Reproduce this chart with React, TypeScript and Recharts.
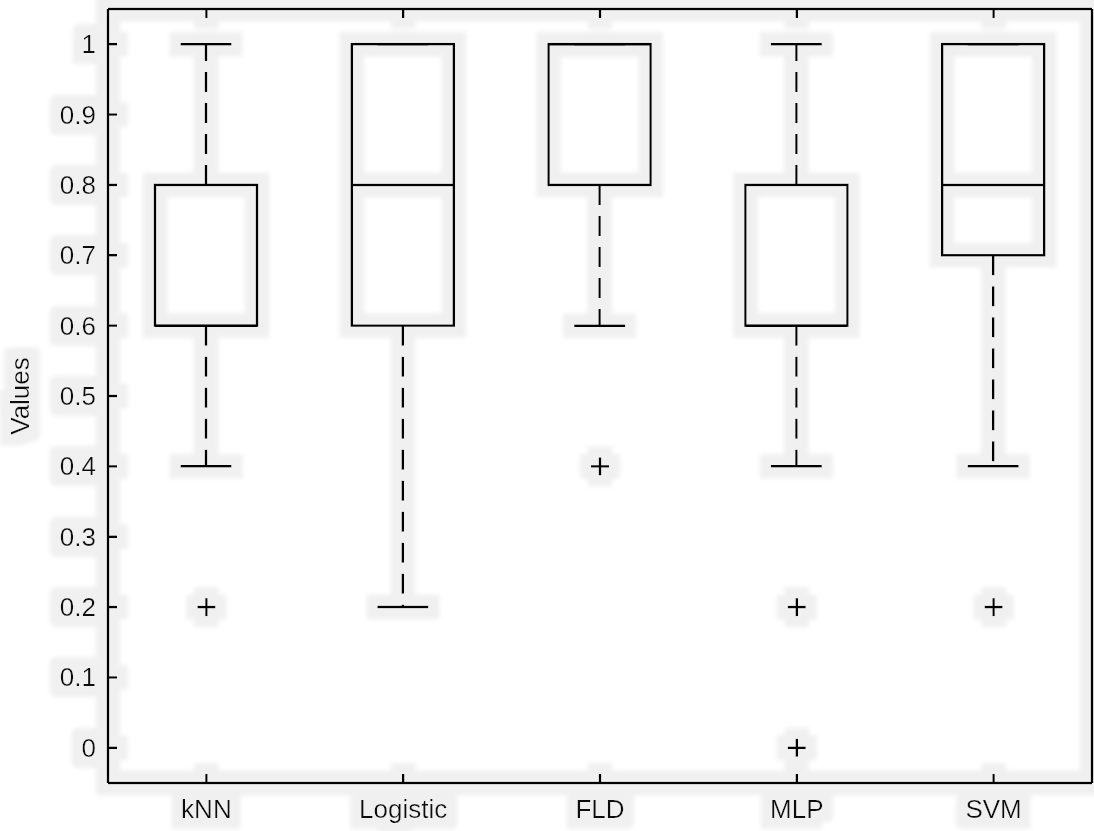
import React from 'react';
import { ComposedChart, Bar, Scatter, XAxis, YAxis } from 'recharts';

const categories = ['kNN', 'Logistic', 'FLD', 'MLP', 'SVM'];
const lowerWhisker = [0.4, 0.2, 0.6, 0.4, 0.4];
const q1 = [0.6, 0.6, 0.8, 0.6, 0.7];
const median = [0.6, 0.8, 1.0, 0.6, 0.8];
const q3 = [0.8, 1.0, 1.0, 0.8, 1.0];
const upperWhisker = [1.0, 1.0, 1.0, 1.0, 1.0];
const outliers: number[][] = [[0.2], [], [0.4], [0.2, 0], [0.2]];
const yTicks = [0, 0.1, 0.2, 0.3, 0.4, 0.5, 0.6, 0.7, 0.8, 0.9, 1];

const data = categories.map((name, i) => ({
  name,
  lo: lowerWhisker[i],
  q1: q1[i],
  med: median[i],
  q3: q3[i],
  hi: upperWhisker[i],
  range: [lowerWhisker[i], upperWhisker[i]],
}));

const outlierData = categories.flatMap((name, i) =>
  outliers[i].map((v) => ({ name, value: v }))
);

const FONT = '"Liberation Sans", Arial, sans-serif';
const FS = 26;
const SW = 2.5;

const BoxShape = (props: any) => {
  const { x, y, width, height, payload } = props;
  const { lo, hi } = payload;
  const toY = (v: number) => y + (height * (hi - v)) / (hi - lo);
  const cx = x + width / 2;
  const half = width / 2;
  const cap = width / 4;
  const yHi = toY(hi);
  const yQ3 = toY(payload.q3);
  const yMed = toY(payload.med);
  const yQ1 = toY(payload.q1);
  const yLo = toY(lo);
  return (
    <g>
      {yQ3 - yHi > 0.5 && (
        <line x1={cx} x2={cx} y1={yQ3} y2={yHi} stroke="#000" strokeWidth={SW} strokeDasharray="20 11" />
      )}
      {yLo - yQ1 > 0.5 && (
        <line x1={cx} x2={cx} y1={yQ1} y2={yLo} stroke="#000" strokeWidth={SW} strokeDasharray="20 11" />
      )}
      <line x1={cx - cap} x2={cx + cap} y1={yHi} y2={yHi} stroke="#000" strokeWidth={SW} />
      <line x1={cx - cap} x2={cx + cap} y1={yLo} y2={yLo} stroke="#000" strokeWidth={SW} />
      <rect x={cx - half} y={yQ3} width={width} height={yQ1 - yQ3} fill="none" stroke="#000" strokeWidth={SW} />
      <line x1={cx - half} x2={cx + half} y1={yMed} y2={yMed} stroke="#000" strokeWidth={SW} />
    </g>
  );
};

const PlusShape = (props: any) => {
  const { cx, cy } = props;
  return (
    <g>
      <line x1={cx - 9} x2={cx + 9} y1={cy} y2={cy} stroke="#000" strokeWidth={SW} />
      <line x1={cx} x2={cx} y1={cy - 9} y2={cy + 9} stroke="#000" strokeWidth={SW} />
    </g>
  );
};

const LeftTick = (props: any) => {
  const { x, y, payload } = props;
  return (
    <g>
      <line x1={x} x2={x + 9} y1={y} y2={y} stroke="#000" strokeWidth={SW} />
      <text x={x - 12} y={y} textAnchor="end" dominantBaseline="central" fontSize={FS} fontFamily={FONT} fill="#111">
        {String(Math.round(payload.value * 10) / 10)}
      </text>
    </g>
  );
};

const RightTick = (props: any) => {
  const { x, y } = props;
  return <line x1={x} x2={x - 9} y1={y} y2={y} stroke="#000" strokeWidth={SW} />;
};

const BottomTick = (props: any) => {
  const { x, y, payload } = props;
  return (
    <g>
      <line x1={x} x2={x} y1={y} y2={y - 9} stroke="#000" strokeWidth={SW} />
      <text x={x} y={y + 26} textAnchor="middle" dominantBaseline="central" fontSize={FS} fontFamily={FONT} fill="#111">
        {payload.value}
      </text>
    </g>
  );
};

const TopTick = (props: any) => {
  const { x, y } = props;
  return <line x1={x} x2={x} y1={y} y2={y + 9} stroke="#000" strokeWidth={SW} />;
};

const YLabel = (props: any) => {
  const { viewBox } = props;
  const x = viewBox.x + 12;
  const y = viewBox.y + viewBox.height / 2;
  return (
    <text x={x} y={y} transform={`rotate(-90 ${x} ${y})`} textAnchor="middle" dominantBaseline="central" fontSize={FS} fontFamily={FONT} fill="#111">
      Values
    </text>
  );
};

export default function App() {
  const axisLine = { stroke: '#000', strokeWidth: SW };
  return (
    <div style={{ position: 'absolute', left: 0, top: 0, width: 1094, height: 831, background: '#fff' }}>
      <svg width={0} height={0} style={{ position: 'absolute' }}>
        <defs>
          <filter id="halo" x="-2%" y="-2%" width="104%" height="104%">
            <feMorphology in="SourceAlpha" operator="dilate" radius="11" result="d" />
            <feGaussianBlur in="d" stdDeviation="2" result="db" />
            <feFlood floodColor="#f0f0f0" />
            <feComposite in2="db" operator="in" result="h" />
            <feMerge>
              <feMergeNode in="h" />
              <feMergeNode in="SourceGraphic" />
            </feMerge>
          </filter>
        </defs>
      </svg>
      <div style={{ position: 'absolute', left: 0, top: 0, filter: 'url(#halo)' }}>
        <ComposedChart width={1094} height={831} data={data} margin={{ top: 8, right: 1, bottom: 47, left: 8 }}>
          <XAxis
            dataKey="name"
            xAxisId={0}
            type="category"
            allowDuplicatedCategory={false}
            axisLine={axisLine}
            tickLine={false}
            tickSize={0}
            tickMargin={0}
            tick={<BottomTick />}
            height={1}
            interval={0}
          />
          <XAxis
            dataKey="name"
            xAxisId="top"
            orientation="top"
            type="category"
            allowDuplicatedCategory={false}
            axisLine={axisLine}
            tickLine={false}
            tickSize={0}
            tickMargin={0}
            tick={<TopTick />}
            height={1}
            interval={0}
          />
          <YAxis
            yAxisId={0}
            type="number"
            domain={[-0.05, 1.05]}
            ticks={yTicks}
            axisLine={axisLine}
            tickLine={false}
            tickSize={0}
            tickMargin={0}
            tick={<LeftTick />}
            width={100}
            interval={0}
            label={<YLabel />}
          />
          <YAxis
            yAxisId="right"
            orientation="right"
            type="number"
            domain={[-0.05, 1.05]}
            ticks={yTicks}
            axisLine={axisLine}
            tickLine={false}
            tickSize={0}
            tickMargin={0}
            tick={<RightTick />}
            width={1}
            interval={0}
          />
          <Bar
            dataKey="range"
            xAxisId={0}
            yAxisId={0}
            barSize={102}
            shape={<BoxShape />}
            isAnimationActive={false}
          />
          <Scatter
            data={outlierData}
            dataKey="value"
            xAxisId={0}
            yAxisId={0}
            shape={<PlusShape />}
            isAnimationActive={false}
          />
        </ComposedChart>
      </div>
    </div>
  );
}
